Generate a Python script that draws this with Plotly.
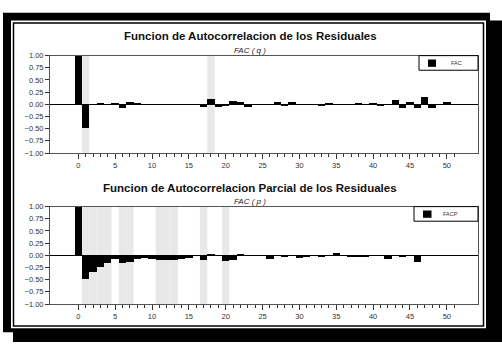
import plotly.graph_objects as go

W, H = 502, 347

acf_lags = list(range(0, 52))
acf_values = [1.00, -0.49, 0.00, 0.03, 0.01, 0.02, -0.08, 0.05, 0.03, 0.00,
              -0.02, 0.00, 0.01, 0.00, 0.00, 0.01, 0.01, -0.05, 0.10, -0.06,
              -0.03, 0.06, 0.04, -0.05, 0.00, 0.01, -0.01, 0.04, -0.04, 0.05,
              0.01, 0.01, 0.00, -0.03, 0.03, 0.01, -0.01, 0.00, 0.02, 0.00,
              0.02, -0.03, 0.00, 0.08, -0.07, 0.04, -0.08, 0.16, -0.07, 0.00,
              0.04, -0.01]
pacf_lags = list(range(0, 47))
pacf_values = [1.00, -0.49, -0.35, -0.23, -0.16, -0.07, -0.15, -0.14, -0.08, -0.06,
               -0.08, -0.10, -0.10, -0.10, -0.08, -0.06, -0.02, -0.10, 0.03, -0.01,
               -0.11, -0.09, 0.02, -0.02, -0.02, -0.01, -0.07, 0.00, -0.03, -0.01,
               -0.05, -0.04, -0.01, -0.04, 0.01, 0.04, -0.01, -0.03, -0.03, -0.04,
               -0.02, -0.02, -0.07, -0.01, -0.03, 0.00, -0.14]
acf_sig_lags = [1, 18]
pacf_sig_lags = [1, 2, 3, 4, 6, 7, 11, 12, 13, 17, 20]

title_acf = "Funcion de Autocorrelacion de los Residuales"
sub_acf = "FAC ( q )"
legend_acf = "FAC"
title_pacf = "Funcion de Autocorrelacion Parcial de los Residuales"
sub_pacf = "FAC ( p )"
legend_pacf = "FACP"
y_ticks = [1.0, 0.75, 0.5, 0.25, 0.0, -0.25, -0.5, -0.75, -1.0]
x_ticks = list(range(0, 51, 5))
x_minor = list(range(0, 52))

FONT = "Liberation Sans, Arial, sans-serif"

def px(x):
    return x / W

def py(y):
    return 1 - y / H

fig = go.Figure()
fig.add_trace(go.Bar(x=acf_lags, y=acf_values, width=1, marker=dict(color="black", line=dict(width=0)),
                     name=legend_acf, xaxis="x", yaxis="y", showlegend=False))
fig.add_trace(go.Bar(x=pacf_lags, y=pacf_values, width=1, marker=dict(color="black", line=dict(width=0)),
                     name=legend_pacf, xaxis="x2", yaxis="y2", showlegend=False))

xr = [-3.84, 54.23]
xdom = [px(50), px(478)]
common_x = dict(range=xr, domain=xdom, showgrid=False, zeroline=False, showline=True, mirror=True,
                linecolor="#555", linewidth=1, ticks="outside", ticklen=5, tickwidth=1, tickcolor="#333",
                tickmode="array", tickvals=x_ticks, tickfont=dict(size=7.5, color="#333", family=FONT),
                minor=dict(tickmode="array", tickvals=x_minor, ticks="outside", ticklen=3, tickcolor="#333"),
                fixedrange=True)
common_y = dict(range=[-1, 1], showgrid=False, zeroline=True, zerolinecolor="black", zerolinewidth=1.2,
                showline=True, mirror=True, linecolor="#555", linewidth=1, ticks="outside", ticklen=4,
                tickcolor="#333", tickmode="array", tickvals=y_ticks, tickformat=".2f",
                tickfont=dict(size=7.5, color="#333", family=FONT), fixedrange=True)

fig.update_layout(
    width=W, height=H, autosize=False,
    margin=dict(l=0, r=0, t=0, b=0),
    paper_bgcolor="white", plot_bgcolor="rgba(0,0,0,0)",
    bargap=0, showlegend=False,
    font=dict(family=FONT, color="black"),
    xaxis=dict(common_x, anchor="y"),
    yaxis=dict(common_y, domain=[py(153), py(53)], anchor="x"),
    xaxis2=dict(common_x, anchor="y2"),
    yaxis2=dict(common_y, domain=[py(308), py(208)], anchor="x2"),
)

shapes = []
# frame with shadow
shapes.append(dict(type="rect", xref="paper", yref="paper", x0=px(13), x1=px(502), y0=py(347), y1=py(17),
                   fillcolor="black", line=dict(width=0), layer="below"))
shapes.append(dict(type="rect", xref="paper", yref="paper", x0=px(3), x1=px(490), y0=py(337), y1=py(9),
                   fillcolor="black", line=dict(width=0), layer="below"))
shapes.append(dict(type="rect", xref="paper", yref="paper", x0=px(11), x1=px(486), y0=py(333), y1=py(17),
                   fillcolor="white", line=dict(width=0), layer="below"))
shapes.append(dict(type="rect", xref="paper", yref="paper", x0=px(13.5), x1=px(483.5), y0=py(330.5), y1=py(19.5),
                   fillcolor="rgba(0,0,0,0)", line=dict(width=1.5, color="black"), layer="below"))
for k in acf_sig_lags:
    shapes.append(dict(type="rect", xref="x", yref="y domain", x0=k - 0.5, x1=k + 0.5, y0=0, y1=1,
                       fillcolor="#e8e8e8", line=dict(width=0), layer="below"))
for k in pacf_sig_lags:
    shapes.append(dict(type="rect", xref="x2", yref="y2 domain", x0=k - 0.5, x1=k + 0.5, y0=0, y1=1,
                       fillcolor="#e8e8e8", line=dict(width=0), layer="below"))

# legend boxes (manual, to match the compact original legend)
ann = []
for (bx0, by0, bx1, by1, sx0, sy0, sx1, sy1, tx, label) in [
        (419, 53, 478, 68, 428, 57, 436, 64.5, 449, legend_acf),
        (414, 208, 478, 223, 423, 212, 431.5, 219.5, 441, legend_pacf)]:
    shapes.append(dict(type="rect", xref="paper", yref="paper", x0=px(bx0), x1=px(bx1), y0=py(by1), y1=py(by0),
                       fillcolor="white", line=dict(width=1, color="black"), layer="above"))
    shapes.append(dict(type="rect", xref="paper", yref="paper", x0=px(sx0), x1=px(sx1), y0=py(sy1), y1=py(sy0),
                       fillcolor="black", line=dict(width=0), layer="above"))
    ann.append(dict(text=label, xref="paper", yref="paper", x=px(tx), y=py((by0 + by1) / 2), showarrow=False,
                    xanchor="left", yanchor="middle", font=dict(size=5.5, family=FONT, color="#333")))
fig.update_layout(shapes=shapes)

for t, y in [(title_acf, 33), (title_pacf, 189)]:
    ann.append(dict(text="<b>%s</b>" % t, xref="paper", yref="paper", x=px(250), y=py(y), showarrow=False,
                    xanchor="center", yanchor="middle", font=dict(size=11.5, family=FONT, color="#111")))
for t, y in [(sub_acf, 47.5), (sub_pacf, 203)]:
    ann.append(dict(text="<i>%s</i>" % t, xref="paper", yref="paper", x=px(250), y=py(y), showarrow=False,
                    xanchor="center", yanchor="middle", font=dict(size=8, family=FONT, color="#222")))
fig.update_layout(annotations=ann)

fig.write_html("out.html", config={"displayModeBar": False, "staticPlot": True},
               post_script="document.body.style.margin='0';document.body.style.overflow='hidden';")
